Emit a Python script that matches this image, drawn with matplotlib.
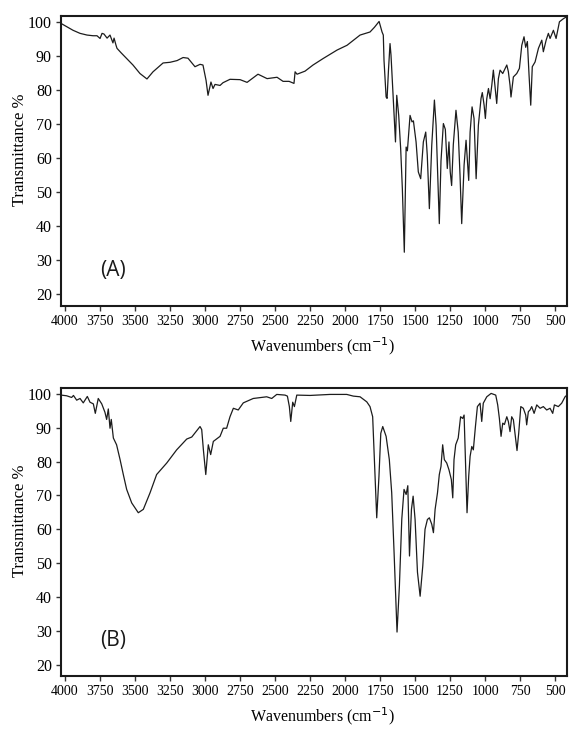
import numpy as np
import matplotlib
matplotlib.use("Agg")
import matplotlib.pyplot as plt

# FT-IR spectrum (A): wavenumber (cm^-1) and transmittance (%)
wn_a = [4028, 3943, 3893, 3843, 3800, 3772, 3750, 3736, 3722, 3700, 3679, 3658, 3650, 3636,
        3629, 3600, 3572, 3515, 3465, 3415, 3372, 3300, 3250, 3200, 3157, 3122, 3072, 3036,
        3015, 2993, 2979, 2958, 2943, 2929, 2893, 2872, 2822, 2750, 2700, 2622, 2557, 2486,
        2443, 2400, 2365, 2357, 2343, 2286, 2229, 2157, 2057, 1986, 1893, 1822, 1790, 1757,
        1736, 1727, 1722, 1707, 1700, 1690, 1679, 1672, 1650, 1640, 1631, 1617, 1603, 1591,
        1577, 1564, 1555, 1536, 1522, 1512, 1493, 1477, 1460, 1441, 1424, 1413, 1398, 1381,
        1362, 1350, 1338, 1327, 1315, 1298, 1284, 1270, 1258, 1249, 1239, 1227, 1208, 1192,
        1179, 1167, 1150, 1136, 1127, 1117, 1107, 1093, 1079, 1064, 1048, 1029, 1020, 1007,
        998, 988, 976, 964, 952, 941, 929, 917, 905, 893, 874, 857, 845, 834, 822, 815, 798,
        774, 755, 738, 722, 710, 698, 686, 674, 663, 643, 619, 595, 584, 564, 548, 536, 512,
        493, 469, 441, 417]
t_a = [99.6, 97.6, 96.7, 96.2, 96.0, 96.0, 95.2, 96.7, 96.5, 95.3, 96.2, 93.9, 95.3, 93.2,
       92.3, 91.0, 89.8, 87.4, 84.9, 83.3, 85.4, 88.0, 88.2, 88.7, 89.6, 89.4, 86.9, 87.6,
       87.4, 82.9, 78.5, 82.4, 80.5, 81.7, 81.4, 82.2, 83.2, 83.1, 82.3, 84.7, 83.4, 83.8,
       82.6, 82.6, 82.0, 85.4, 84.7, 85.6, 87.4, 89.3, 91.8, 93.2, 96.2, 97.1, 98.5, 100.2,
       97.1, 96.2, 88.8, 78.0, 77.6, 86.0, 93.7, 90.3, 72.6, 64.8, 78.5, 72.6, 62.8, 51.1,
       32.4, 63.3, 62.2, 72.6, 70.7, 71.0, 64.8, 56.0, 54.0, 64.8, 67.7, 60.9, 45.2, 63.8,
       77.1, 69.7, 55.0, 40.8, 59.2, 70.2, 68.5, 57.0, 64.8, 56.0, 52.0, 64.0, 74.1, 67.7,
       55.0, 40.8, 58.0, 65.3, 59.9, 53.5, 67.7, 75.1, 71.7, 54.0, 69.7, 77.6, 79.3, 75.6,
       71.7, 77.5, 80.5, 77.5, 81.5, 85.9, 80.9, 76.1, 83.4, 85.9, 84.9, 86.4, 87.4, 85.5,
       81.5, 78.0, 83.9, 84.9, 86.4, 93.2, 95.7, 92.6, 94.3, 84.4, 75.6, 86.9, 88.3, 92.3,
       94.7, 91.3, 94.7, 96.7, 95.2, 97.6, 95.2, 100.1, 101.0, 101.6]

# FT-IR spectrum (B)
wn_b = [4028, 3989, 3953, 3940, 3917, 3893, 3870, 3841, 3822, 3798, 3784, 3763, 3738, 3715,
        3703, 3691, 3679, 3670, 3655, 3632, 3607, 3584, 3560, 3524, 3477, 3441, 3393, 3346,
        3274, 3203, 3131, 3095, 3036, 3024, 3012, 2995, 2977, 2960, 2941, 2893, 2870, 2846,
        2822, 2798, 2763, 2727, 2656, 2560, 2524, 2488, 2429, 2412, 2398, 2388, 2374, 2362,
        2345, 2250, 2107, 1988, 1941, 1893, 1845, 1822, 1803, 1791, 1774, 1758, 1745, 1731,
        1707, 1684, 1667, 1650, 1629, 1612, 1595, 1579, 1564, 1552, 1540, 1526, 1514, 1500,
        1483, 1464, 1445, 1429, 1412, 1398, 1381, 1369, 1357, 1340, 1327, 1315, 1303, 1291,
        1274, 1258, 1241, 1231, 1222, 1210, 1192, 1175, 1160, 1150, 1138, 1129, 1117, 1107,
        1095, 1084, 1069, 1055, 1036, 1024, 1013, 988, 957, 924, 910, 898, 886, 874, 862,
        845, 834, 822, 810, 798, 784, 772, 760, 745, 727, 710, 703, 691, 679, 667, 650, 631,
        607, 584, 560, 536, 517, 505, 477, 453, 429, 410]
t_b = [99.7, 99.5, 99.0, 99.6, 98.2, 98.7, 97.4, 99.3, 97.6, 97.1, 94.3, 98.7, 97.1, 94.6,
       92.5, 95.6, 89.9, 92.5, 87.0, 85.0, 80.6, 76.2, 71.8, 67.8, 64.9, 65.9, 70.8, 76.2,
       79.6, 83.5, 86.7, 87.3, 90.4, 89.5, 83.5, 76.2, 85.0, 82.1, 86.0, 87.5, 89.9, 89.9,
       93.3, 95.8, 95.3, 97.4, 98.7, 99.2, 98.7, 99.9, 99.7, 99.4, 96.3, 91.9, 97.6, 96.3,
       99.7, 99.6, 99.9, 99.9, 99.4, 99.2, 97.7, 96.3, 93.3, 80.6, 63.4, 75.7, 88.4, 90.4,
       87.5, 80.6, 70.8, 53.1, 29.6, 43.3, 63.0, 71.8, 70.3, 72.9, 52.1, 65.9, 69.8, 62.9,
       47.3, 40.2, 49.2, 60.0, 62.9, 63.4, 61.5, 59.0, 65.9, 70.8, 76.2, 78.6, 85.0, 80.6,
       79.6, 77.6, 74.7, 69.3, 80.6, 85.0, 87.0, 93.3, 92.8, 93.8, 77.6, 64.9, 75.7, 81.6,
       84.5, 83.5, 90.4, 96.3, 97.3, 91.9, 97.3, 99.2, 100.2, 99.7, 96.8, 92.8, 87.5, 91.4, 91.0,
       93.3, 91.9, 88.9, 93.3, 92.4, 87.5, 83.3, 88.4, 96.3, 95.8, 93.8, 90.9, 94.8, 95.3, 96.3, 94.3, 96.8,
       95.8, 96.3, 95.3, 95.8, 94.3, 96.8, 96.3, 97.3, 99.2, 99.9]

x_ticks = [4000, 3750, 3500, 3250, 3000, 2750, 2500, 2250, 2000, 1750, 1500, 1250, 1000, 750, 500]
y_ticks = [20, 30, 40, 50, 60, 70, 80, 90, 100]
panel_tags = ["(A)", "(B)"]

W, H = 569, 730
fig = plt.figure(figsize=(W / 100, H / 100), dpi=100)

serif = ["Liberation Serif", "DejaVu Serif"]
boxes = [(61, 16, 567, 306), (61, 388, 567, 676)]
series = [(wn_a, t_a), (wn_b, t_b)]

for (l, t, r, b), (wn, tr), tag in zip(boxes, series, panel_tags):
    ax = fig.add_axes([l / W, 1 - b / H, (r - l) / W, (b - t) / H])
    ax.plot(wn, tr, color="#1c1c1c", lw=0.9)
    ax.set_xlim(4029, 415)
    ax.set_ylim(16.6, 101.8)
    ax.set_xticks(x_ticks)
    ax.set_yticks(y_ticks)
    ax.set_xticklabels([str(v) for v in x_ticks], fontfamily=serif, fontsize=10)
    ax.set_yticklabels([str(v) for v in y_ticks], fontfamily=serif, fontsize=11.5)
    ax.tick_params(direction="out", length=3.5, width=1, color="#333333", pad=3)
    for s in ax.spines.values():
        s.set_linewidth(1.5)
        s.set_color("#1a1a1a")
    ax.set_ylabel("Transmittance %", fontfamily=serif, fontsize=12)
    ax.yaxis.set_label_coords(-0.066, 0.54)
    ax.set_xlabel(r"Wavenumbers (cm$^{-1}$)", fontfamily=serif, fontsize=11.5)
    ax.xaxis.set_label_coords(0.516, -0.102)
    ax.text(3660, 27, tag, fontfamily=["Open Sans", "DejaVu Sans"], fontsize=15,
            ha="center", va="center", color="#1a1a1a")

fig.savefig("out.png", dpi=100)
